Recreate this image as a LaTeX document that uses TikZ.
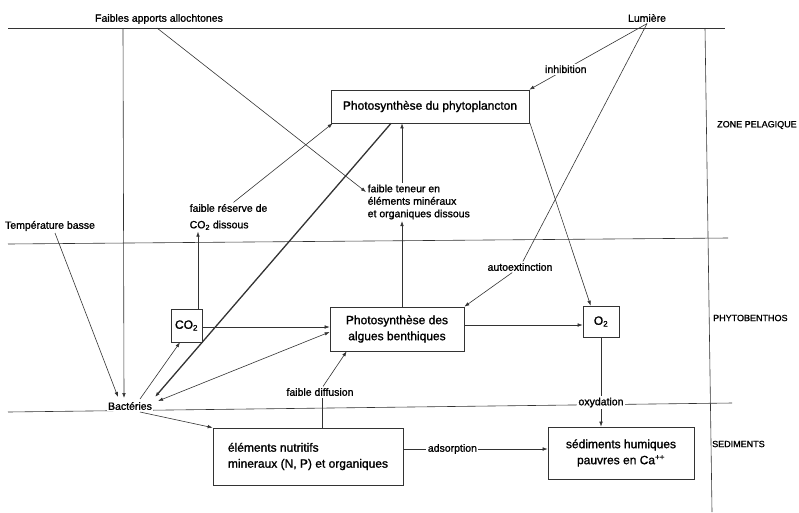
\documentclass[tikz,border=0pt]{standalone}
\usepackage{fontspec}
\setmainfont{Liberation Sans}[BoldFont={Liberation Sans},BoldFeatures={FakeBold=1.2}]
\usetikzlibrary{arrows.meta,calc}
\begin{document}
\begin{tikzpicture}[x=1pt,y=-1pt,
  ln/.style={line width=0.6pt, draw=black!80},
  arr/.style={ln,-{Latex[length=5pt,width=3.6pt]}},
  dbl/.style={ln,{Latex[length=5pt,width=3.6pt]}-{Latex[length=5pt,width=3.6pt]}},
  box/.style={draw=black!80,line width=0.7pt,fill=white,inner sep=0pt,align=center,font=\fontsize{12}{16}\selectfont\bfseries},
  lab/.style={inner sep=1.5pt,font=\fontsize{10.5}{12.5}\selectfont\bfseries},
  wlab/.style={lab,fill=white},
  zone/.style={anchor=west,inner sep=0pt,font=\fontsize{9}{11}\selectfont\bfseries}
]
\useasboundingbox (0,0) rectangle (799,512);
% zone lines
\draw[ln] (8,28) -- (725,28);
\draw[ln] (8,244) -- (728,238);
\draw[ln] (8,412) -- (732,403);
\draw[ln] (705,28) -- (712,512);
% nodes
\node[lab] (fap) at (159,19) {Faibles apports allochtones};
\node[lab] (lum) at (647,18) {Lumière};
\node[lab] (temp) at (50,226) {Température basse};
\node[lab,align=left,anchor=west] (frco) at (188,217) {faible réserve de\\[4pt]CO\textsubscript{2} dissous};
\node[lab,align=left,anchor=west] (fte) at (366,202) {faible teneur en\\éléments minéraux\\et organiques dissous};
\node[box,minimum width=198pt,minimum height=33pt] (phyto) at (430,106.5) {Photosynthèse du phytoplancton};
\node[box,minimum width=134pt,minimum height=44pt] (alg) at (397,329) {Photosynthèse des\\algues benthiques};
\node[box,minimum width=31pt,minimum height=33pt] (co2) at (186.5,325.5) {CO\textsubscript{2}};
\node[box,minimum width=36pt,minimum height=31pt] (o2) at (601,321.5) {O\textsubscript{2}};
\node[wlab] (bact) at (130,406) {Bactéries};
\node[box,minimum width=190pt,minimum height=57pt,align=left] (nut) at (308,456.5) {éléments nutritifs\\mineraux (N, P) et organiques};
\node[box,minimum width=146pt,minimum height=52pt] (sed) at (621,453) {sédiments humiques\\pauvres en Ca\textsuperscript{++}};
\node[wlab] (auto) at (520,267) {autoextinction};
\node[lab] (fdiff) at (320,392) {faible diffusion};
\node[zone] (zp) at (717,125) {ZONE PELAGIQUE};
\node[zone] (zb) at (713,318) {PHYTOBENTHOS};
\node[zone] (zs) at (712,444) {SEDIMENTS};
% helper coordinates
\coordinate (co2up) at ($(co2.north)+(11.5,0)$);
\coordinate (algup) at ($(alg.north)+(5,0)$);
\coordinate (co2r) at ($(co2.east)+(0,1.5)$);
\coordinate (algr) at ($(alg.east)+(0,-4)$);
\coordinate (nutup) at ($(nut.north)+(14,0)$);
\coordinate (sedl) at ($(sed.west)+(0,-4)$);
% connectors
\draw[arr] ($(fap)+(-36,9)$) -- ($(bact)+(-6,-8)$);
\draw[arr] ($(fap)+(-2,9)$) -- ($(fte.west)+(0,-10)$);
\draw[arr] ($(temp)+(5,7)$) -- ($(bact)+(-12,-9)$);
\draw[arr] ($(bact)+(10,-7)$) -- ($(co2.south)+(-6.5,0)$);
\draw[arr,line width=1.3pt] ($(phyto.south)+(-39,0)$) -- ($(bact)+(25,-9)$);
\draw[dbl] ($(alg.west)+(0,3)$) -- ($(bact)+(28,-5)$);
\draw[arr] (co2r) -- (co2r -| alg.west);
\draw[arr] (co2up) -- (co2up |- frco.south);
\draw[arr] ($(frco.north)+(5,0)$) -- ($(phyto.south west)+(2,0)$);
\draw[arr] (algup) -- (algup |- fte.south);
\draw[arr] (algup |- fte.north) -- (algup |- phyto.south);
\draw[arr] ($(phyto.south east)+(0,-2)$) -- ($(o2.north west)+(8,0)$);
\draw[arr] (lum.south) -- node[wlab,pos=0.69]{inhibition} (phyto.north east);
\draw[ln] (lum.south) -- (auto);
\draw[arr] (auto) -- (alg.north east);
\draw[arr] (algr) -- (algr -| o2.west);
\draw[arr] (o2.south) -- node[wlab,pos=0.73]{oxydation} (o2.south |- sed.north);
\draw[arr] ($(bact)+(10,6)$) -- (nut.north west);
\draw[ln] (nutup) -- (nutup |- fdiff.south);
\draw[arr] ($(fdiff.north)+(3,0)$) -- ($(alg.south west)+(17,0)$);
\draw[arr] (sedl -| nut.east) -- node[wlab,pos=0.34]{adsorption} (sedl);
\end{tikzpicture}
\end{document}
